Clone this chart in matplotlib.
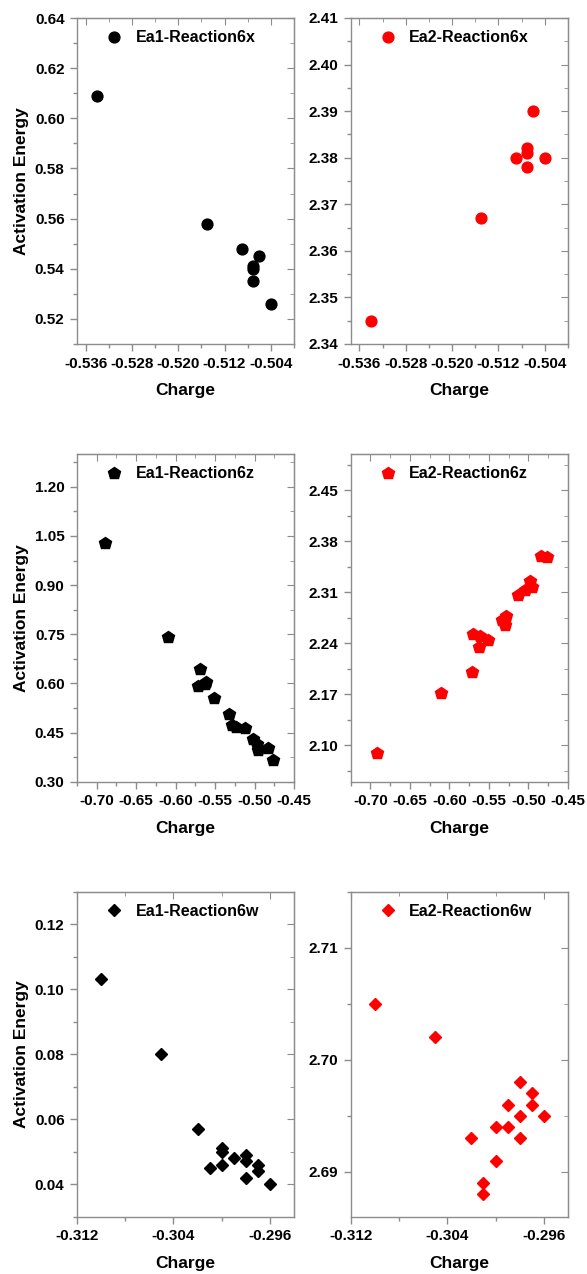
import matplotlib
matplotlib.use('Agg')
import matplotlib.pyplot as plt
from matplotlib.ticker import MultipleLocator, FormatStrFormatter

plt.rcParams['font.family'] = ['Liberation Sans', 'DejaVu Sans']
plt.rcParams['font.weight'] = 'bold'

# Reaction 6x
charge_6x_ea1 = [-0.534, -0.515, -0.509, -0.506, -0.507, -0.507, -0.507, -0.504]
ea1_6x = [0.609, 0.558, 0.548, 0.545, 0.541, 0.540, 0.535, 0.526]
charge_6x_ea2 = [-0.534, -0.515, -0.509, -0.507, -0.507, -0.507, -0.506, -0.504]
ea2_6x = [2.345, 2.367, 2.380, 2.382, 2.381, 2.378, 2.390, 2.380]

# Reaction 6z
charge_6z_ea1 = [-0.690, -0.610, -0.569, -0.5615, -0.563, -0.572, -0.552, -0.532,
                 -0.528, -0.5236, -0.512, -0.5025, -0.497, -0.4954, -0.4827, -0.476]
ea1_6z = [1.029, 0.742, 0.644, 0.603, 0.598, 0.592, 0.554, 0.506,
          0.473, 0.466, 0.465, 0.429, 0.414, 0.397, 0.404, 0.365]
charge_6z_ea2 = [-0.692, -0.611, -0.572, -0.570, -0.5616, -0.563, -0.551, -0.534,
                 -0.530, -0.528, -0.513, -0.5046, -0.498, -0.495, -0.484, -0.476]
ea2_6z = [2.090, 2.172, 2.200, 2.253, 2.250, 2.235, 2.245, 2.272,
          2.265, 2.277, 2.307, 2.313, 2.326, 2.317, 2.360, 2.358]

# Reaction 6w
charge_6w_ea1 = [-0.310, -0.305, -0.302, -0.301, -0.300, -0.300, -0.300,
                 -0.299, -0.298, -0.298, -0.298, -0.297, -0.297, -0.296]
ea1_6w = [0.103, 0.080, 0.057, 0.045, 0.051, 0.050, 0.046,
          0.048, 0.049, 0.047, 0.042, 0.046, 0.044, 0.040]
charge_6w_ea2 = [-0.310, -0.305, -0.302, -0.301, -0.301, -0.300, -0.300, -0.299,
                 -0.299, -0.298, -0.298, -0.298, -0.297, -0.297, -0.296]
ea2_6w = [2.705, 2.702, 2.693, 2.689, 2.688, 2.694, 2.691, 2.696,
          2.694, 2.698, 2.695, 2.693, 2.697, 2.696, 2.695]

W, H = 587, 1274
fig = plt.figure(figsize=(W / 100, H / 100), dpi=100)

cols = [(77, 217), (350.7, 217.3)]
rows = [(18, 344), (454, 781.7), (891.7, 1216.7)]

panels = [
    # row, col, x, y, marker, size, color, label, xlim, ylim, xmaj, ymaj, xfmt, yfmt
    (0, 0, charge_6x_ea1, ea1_6x, 'o', 7.8, 'black', 'Ea1-Reaction6x',
     (-0.5375, -0.500), (0.51, 0.64), 0.008, 0.02, '%.3f', '%.2f'),
    (0, 1, charge_6x_ea2, ea2_6x, 'o', 7.8, 'red', 'Ea2-Reaction6x',
     (-0.5375, -0.500), (2.34, 2.41), 0.008, 0.01, '%.3f', '%.2f'),
    (1, 0, charge_6z_ea1, ea1_6z, 'p', 8.8, 'black', 'Ea1-Reaction6z',
     (-0.725, -0.45), (0.30, 1.30), 0.05, 0.15, '%.2f', '%.2f'),
    (1, 1, charge_6z_ea2, ea2_6z, 'p', 8.8, 'red', 'Ea2-Reaction6z',
     (-0.725, -0.45), (2.05, 2.50), 0.05, 0.07, '%.2f', '%.2f'),
    (2, 0, charge_6w_ea1, ea1_6w, 'D', 6.2, 'black', 'Ea1-Reaction6w',
     (-0.312, -0.294), (0.03, 0.13), 0.008, 0.02, '%.3f', '%.2f'),
    (2, 1, charge_6w_ea2, ea2_6w, 'D', 6.2, 'red', 'Ea2-Reaction6w',
     (-0.312, -0.294), (2.686, 2.715), 0.008, 0.01, '%.3f', '%.2f'),
]

spine_col = '#8c8c8c'

for r, c, xs, ys, mk, ms, colr, lab, xl, yl, xmaj, ymaj, xf, yf in panels:
    left, width = cols[c]
    top, bottom = rows[r]
    ax = fig.add_axes([left / W, 1 - bottom / H, width / W, (bottom - top) / H])
    ax.plot(xs, ys, linestyle='none', marker=mk, markersize=ms, color=colr,
            markeredgecolor=colr, label=lab)
    ax.set_xlim(*xl)
    ax.set_ylim(*yl)
    ax.xaxis.set_major_locator(MultipleLocator(xmaj))
    ax.xaxis.set_minor_locator(MultipleLocator(xmaj / 2))
    ax.yaxis.set_major_locator(MultipleLocator(ymaj))
    ax.yaxis.set_minor_locator(MultipleLocator(ymaj / 2))
    ax.xaxis.set_major_formatter(FormatStrFormatter(xf))
    ax.yaxis.set_major_formatter(FormatStrFormatter(yf))
    for s in ax.spines.values():
        s.set_color(spine_col)
        s.set_linewidth(1.0)
    ax.tick_params(which='both', direction='out', color=spine_col, width=1.0,
                   labelsize=11, pad=4)
    ax.tick_params(which='major', length=5)
    ax.tick_params(which='minor', length=3)
    for t in ax.get_xticklabels() + ax.get_yticklabels():
        t.set_fontweight('bold')

    # mirrored ticks pointing inward on top and right
    sx = ax.secondary_xaxis('top')
    sx.xaxis.set_major_locator(MultipleLocator(xmaj))
    sx.xaxis.set_minor_locator(MultipleLocator(xmaj / 2))
    sx.tick_params(which='both', direction='in', color=spine_col, labeltop=False)
    sx.tick_params(which='major', length=5)
    sx.tick_params(which='minor', length=3)
    sx.spines['top'].set_color(spine_col)
    sy = ax.secondary_yaxis('right')
    sy.yaxis.set_major_locator(MultipleLocator(ymaj))
    sy.yaxis.set_minor_locator(MultipleLocator(ymaj / 2))
    sy.tick_params(which='both', direction='in', color=spine_col, labelright=False)
    sy.tick_params(which='major', length=5)
    sy.tick_params(which='minor', length=3)
    sy.spines['right'].set_color(spine_col)

    ax.set_xlabel('Charge', fontsize=12.5, fontweight='bold', labelpad=9)
    if c == 0:
        ax.set_ylabel('Activation Energy', fontsize=12.5, fontweight='bold', labelpad=4)

    ax.legend(loc='upper left', bbox_to_anchor=(0.115, 0.962), frameon=False,
              borderaxespad=0, borderpad=0, handlelength=1.5, handletextpad=0.6,
              numpoints=1, prop={'size': 11.5, 'weight': 'bold'})

fig.savefig('out.png', dpi=100)
